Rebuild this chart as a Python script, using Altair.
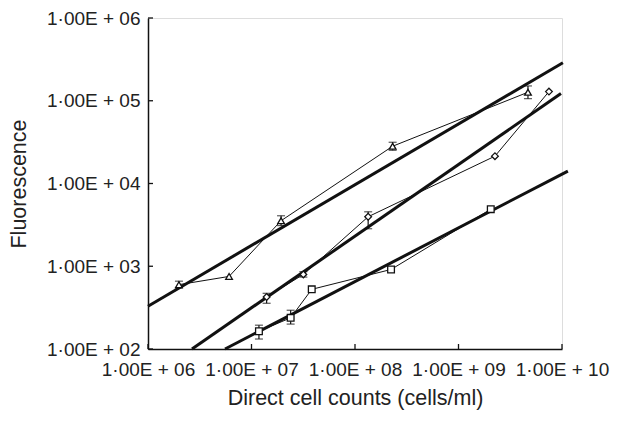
import altair as alt
import pandas as pd

# ---- data ----
series_names = ["triangle", "diamond", "square"]

tri_x = [1.99e6, 6.07e6, 1.93e7, 2.31e8, 4.69e9]
tri_y = [599, 753, 3548, 28200, 126700]
dia_x = [1.40e7, 3.17e7, 1.34e8, 2.25e9, 7.48e9]
dia_y = [425, 796, 3963, 21400, 129000]
sq_x = [1.18e7, 2.39e7, 3.82e7, 2.23e8, 2.05e9]
sq_y = [164, 238, 526, 914, 4900]

# error bars (x, low, high)
err_x = [1.99e6, 1.93e7, 2.31e8, 4.69e9, 1.40e7, 3.17e7, 1.34e8, 1.18e7, 2.39e7]
err_lo = [545, 3100, 25200, 106000, 357, 740, 2840, 132, 200]
err_hi = [660, 4075, 31500, 151000, 471, 860, 4550, 194, 294]

# fitted regression lines (end points)
fit_x0 = [1.0e6, 2.66e6, 5.55e6]
fit_y0 = [329, 100, 100]
fit_x1 = [1.02e10, 9.77e9, 1.14e10]
fit_y1 = [288000, 122200, 14130]

x_ticks = [1e6, 1e7, 1e8, 1e9, 1e10]
y_ticks = [1e2, 1e3, 1e4, 1e5, 1e6]

# ---- tables ----
pts = pd.DataFrame({
    "series": [series_names[0]] * len(tri_x) + [series_names[1]] * len(dia_x) + [series_names[2]] * len(sq_x),
    "x": tri_x + dia_x + sq_x,
    "y": tri_y + dia_y + sq_y,
})
err = pd.DataFrame({"x": err_x, "lo": err_lo, "hi": err_hi})
fit_rows = []
for i, s in enumerate(series_names):
    fit_rows.append({"series": s, "x": fit_x0[i], "y": fit_y0[i]})
    fit_rows.append({"series": s, "x": fit_x1[i], "y": fit_y1[i]})
fit = pd.DataFrame(fit_rows)
xt = pd.DataFrame({"v": x_ticks})
yt = pd.DataFrame({"v": y_ticks})

W, H = 414, 331
FONT = "Liberation Sans"
label_expr = "'1·00E + ' + (round(log(datum.value)/LN10) < 10 ? '0' : '') + round(log(datum.value)/LN10)"

xscale = alt.Scale(type="log", domain=[1e6, 1e10], nice=False)
yscale = alt.Scale(type="log", domain=[1e2, 1e6], nice=False)

xaxis = alt.Axis(values=x_ticks, labelExpr=label_expr, title="Direct cell counts (cells/ml)",
                 grid=False, ticks=False, tickSize=0, domainColor="#111", domainWidth=1.5,
                 labelFont=FONT, labelFontSize=19, labelColor="#222", labelPadding=11,
                 labelFlush=False, labelOverlap=False,
                 titleFont=FONT, titleFontSize=21.5, titleFontWeight="normal", titleColor="#222",
                 titlePadding=8)
yaxis = alt.Axis(values=y_ticks, labelExpr=label_expr, title="Fluorescence",
                 grid=False, ticks=False, tickSize=0, domainColor="#111", domainWidth=1.5,
                 labelFont=FONT, labelFontSize=19, labelColor="#222", labelPadding=8,
                 labelFlush=False, labelOverlap=False,
                 titleFont=FONT, titleFontSize=21.5, titleFontWeight="normal", titleColor="#222",
                 titlePadding=16)

shape_scale = alt.Scale(domain=series_names, range=["triangle-up", "diamond", "square"])

fit_layer = alt.Chart(fit).mark_line(color="#111", strokeWidth=3, clip=False).encode(
    x=alt.X("x:Q", scale=xscale, axis=xaxis),
    y=alt.Y("y:Q", scale=yscale, axis=yaxis),
    detail="series:N",
)
conn_layer = alt.Chart(pts).mark_line(color="#111", strokeWidth=1).encode(
    x=alt.X("x:Q", scale=xscale),
    y=alt.Y("y:Q", scale=yscale),
    detail="series:N",
    order="x:Q",
)
err_rule = alt.Chart(err).mark_rule(color="#111", strokeWidth=1.2).encode(
    x=alt.X("x:Q", scale=xscale),
    y=alt.Y("lo:Q", scale=yscale),
    y2="hi:Q",
)
err_cap_lo = alt.Chart(err).mark_tick(color="#111", orient="horizontal", size=8, thickness=1.2).encode(
    x=alt.X("x:Q", scale=xscale),
    y=alt.Y("lo:Q", scale=yscale),
)
err_cap_hi = alt.Chart(err).mark_tick(color="#111", orient="horizontal", size=8, thickness=1.2).encode(
    x=alt.X("x:Q", scale=xscale),
    y=alt.Y("hi:Q", scale=yscale),
)
pt_layer = alt.Chart(pts).mark_point(filled=True, fill="white", stroke="#111", strokeWidth=1.3,
                                     size=45, opacity=1).encode(
    x=alt.X("x:Q", scale=xscale),
    y=alt.Y("y:Q", scale=yscale),
    shape=alt.Shape("series:N", scale=shape_scale, legend=None),
)
xtick_layer = alt.Chart(xt).mark_rule(color="#111", strokeWidth=1.3).encode(
    x=alt.X("v:Q", scale=xscale),
    y=alt.value(H - 5),
    y2=alt.value(H),
)
ytick_layer = alt.Chart(yt).mark_rule(color="#111", strokeWidth=1.3).encode(
    y=alt.Y("v:Q", scale=yscale),
    x=alt.value(0),
    x2=alt.value(5),
)

chart = alt.layer(
    fit_layer, conn_layer, err_rule, err_cap_lo, err_cap_hi, pt_layer, xtick_layer, ytick_layer
).properties(
    width=W, height=H,
    autosize=alt.AutoSizeParams(type="none"),
    padding={"left": 140, "top": 10, "right": 56, "bottom": 62},
).configure_view(stroke=None).configure(background="white")

chart.save("out.html", embed_options={"renderer": "svg", "actions": False})
